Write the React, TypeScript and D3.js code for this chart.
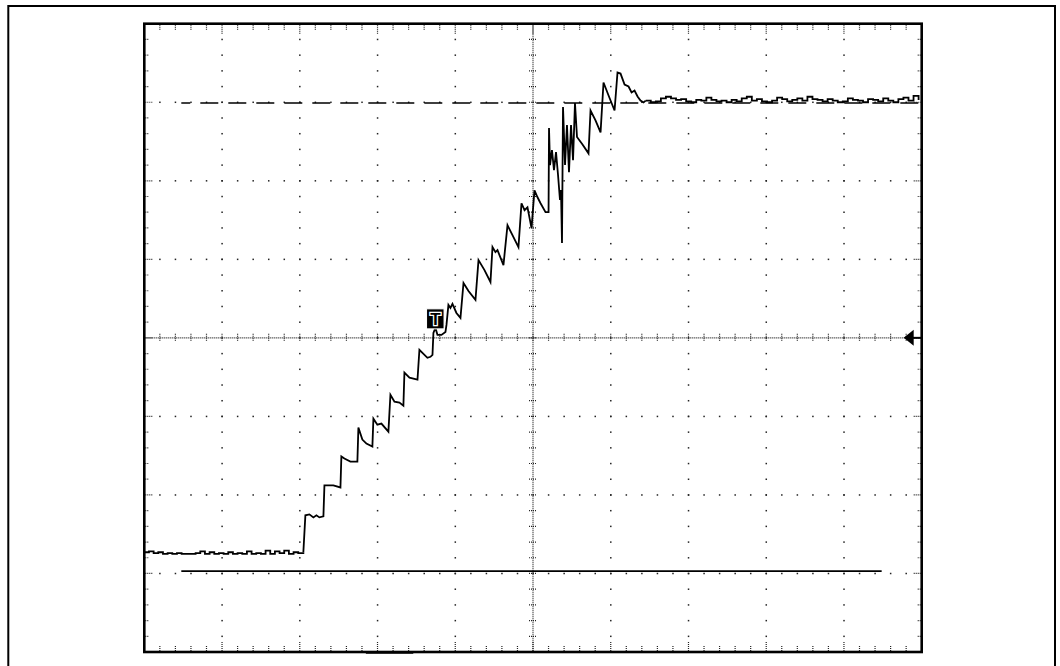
import React from "react";
import * as d3 from "d3";

// Oscilloscope screen: 10 x 8 divisions, 5 minor ticks per division
const X_DIVS = 10;
const Y_DIVS = 8;
const MINOR = 5;

// Captured trace, in divisions [time, level]
const baselineTrace: [number, number][] = [
  [0.0, -2.73], [0.06, -2.72], [0.12, -2.74], [0.18, -2.73], [0.24, -2.75], [0.3, -2.74],
  [0.36, -2.75], [0.42, -2.74], [0.48, -2.75], [0.54, -2.75], [0.6, -2.75], [0.66, -2.74],
  [0.72, -2.72], [0.78, -2.75], [0.84, -2.73], [0.9, -2.75], [0.96, -2.74], [1.02, -2.75],
  [1.08, -2.73], [1.14, -2.75], [1.2, -2.74], [1.26, -2.75], [1.32, -2.72], [1.38, -2.75],
  [1.44, -2.74], [1.5, -2.75], [1.56, -2.71], [1.62, -2.75], [1.68, -2.72], [1.74, -2.74],
  [1.8, -2.71], [1.86, -2.75], [1.92, -2.73], [1.98, -2.74], [2.046, -2.73],
];

const rampTrace: [number, number][] = [
  [2.046, -2.73],
  [2.072, -2.26], [2.124, -2.248], [2.175, -2.286], [2.214, -2.26], [2.252, -2.286], [2.304, -2.273],
  [2.317, -1.879], [2.432, -1.879], [2.523, -1.905],
  [2.535, -1.511], [2.574, -1.537], [2.651, -1.575], [2.741, -1.575],
  [2.754, -1.143], [2.805, -1.295], [2.857, -1.346], [2.934, -1.384],
  [2.947, -1.029], [2.998, -1.105], [3.05, -1.092], [3.14, -1.194],
  [3.166, -0.724], [3.218, -0.813], [3.282, -0.825], [3.333, -0.863],
  [3.346, -0.444], [3.411, -0.508], [3.514, -0.533],
  [3.539, -0.152], [3.565, -0.178], [3.642, -0.254], [3.681, -0.241], [3.707, -0.216],
  [3.719, 0.063], [3.745, 0.127], [3.771, 0.038], [3.822, 0.038], [3.874, 0.076], [3.887, 0.165],
  [3.912, 0.419], [3.938, 0.381], [3.964, 0.432], [4.015, 0.317], [4.067, 0.254],
  [4.106, 0.698], [4.17, 0.597], [4.26, 0.483],
  [4.299, 0.99], [4.376, 0.863], [4.453, 0.711],
  [4.479, 1.156], [4.517, 1.092], [4.543, 1.117], [4.62, 0.927],
  [4.672, 1.435], [4.736, 1.308], [4.813, 1.156],
  [4.852, 1.714], [4.891, 1.625], [4.929, 1.663], [4.981, 1.397],
  [5.019, 1.879], [5.058, 1.79], [5.097, 1.714], [5.161, 1.6], [5.2, 1.6],
];

const ringingTrace: [number, number][] = [
  [5.206, 2.672], [5.219, 2.2], [5.244, 2.391], [5.27, 2.136], [5.296, 2.366], [5.322, 2.073],
  [5.347, 1.755], [5.36, 1.882], [5.373, 1.208], [5.386, 2.94], [5.412, 2.2], [5.437, 2.71],
  [5.463, 2.11], [5.489, 2.71], [5.515, 2.263], [5.54, 2.99], [5.566, 2.557],
  [5.637, 2.463], [5.714, 2.349], [5.74, 2.895], [5.804, 2.768], [5.869, 2.616],
  [5.907, 3.251], [5.972, 3.086], [6.049, 2.895], [6.087, 3.378], [6.126, 3.365], [6.178, 3.225],
  [6.229, 3.2], [6.268, 3.124], [6.306, 3.149], [6.345, 3.073], [6.383, 3.022], [6.422, 2.997],
  [6.45, 3.02],
];

const settledStart = 6.45;
const settledStep = 0.065;
const settledValues: number[] = [
  3.02, 3.0, 3.01, 3.05, 3.07, 3.05, 3.03, 3.04, 3.01, 3.0, 3.03, 3.02, 3.06, 3.03, 3.01,
  3.02, 3.0, 3.03, 3.01, 3.05, 3.07, 3.02, 3.04, 3.01, 3.0, 3.02, 3.06, 3.04, 3.01, 3.03,
  3.05, 3.02, 3.07, 3.04, 3.03, 3.01, 3.04, 3.02, 3.0, 3.01, 3.05, 3.03, 3.02, 3.0, 3.04,
  3.03, 3.01, 3.05, 3.02, 3.0, 3.04, 3.06, 3.02, 3.08, 3.03,
];

// Cursors (divisions)
const cursorHigh = { level: 2.99, from: 0.476, to: 10 };
const cursorLow = { level: -2.97, from: 0.476, to: 9.485 };
const triggerTime = 3.74;
const triggerLevel = 0;
const bottomMarker = { from: 2.85, to: 3.46 };

export default function App() {
  const W = 1060;
  const H = 666;
  const x = d3.scaleLinear().domain([0, X_DIVS]).range([144.3, 921.7]);
  const y = d3.scaleLinear().domain([-Y_DIVS / 2, Y_DIVS / 2]).range([652, 23.7]);
  const x0 = x(0), x1 = x(X_DIVS), y0 = y(Y_DIVS / 2), y1 = y(-Y_DIVS / 2);
  const cx = x(X_DIVS / 2), cy = y(0);

  const settledTrace: [number, number][] = settledValues.map((v, i) => [settledStart + i * settledStep, v]);
  const line = d3.line<[number, number]>().x((d) => x(d[0])).y((d) => y(d[1]));
  const stepLine = d3.line<[number, number]>().x((d) => x(d[0])).y((d) => y(d[1])).curve(d3.curveStepAfter);

  const xMinor = d3.range(1, X_DIVS * MINOR).map((k) => k / MINOR);
  const yMinor = d3.range(1, Y_DIVS * MINOR).map((k) => -Y_DIVS / 2 + k / MINOR);
  const xMajor = d3.range(1, X_DIVS).filter((i) => i !== X_DIVS / 2);
  const yMajor = d3.range(1, Y_DIVS).map((j) => -Y_DIVS / 2 + j).filter((v) => v !== 0);

  const dots: React.ReactNode[] = [];
  xMajor.forEach((i) =>
    yMinor.forEach((v, k) =>
      dots.push(<rect key={`vd${i}-${k}`} x={x(i) - 0.7} y={y(v) - 0.7} width={1.5} height={1.5} fill="#222" />)
    )
  );
  yMajor.forEach((j) =>
    xMinor.forEach((t, k) =>
      dots.push(<rect key={`hd${j}-${k}`} x={x(t) - 0.7} y={y(j) - 0.7} width={1.5} height={1.5} fill="#222" />)
    )
  );

  const dotStyle = { stroke: "#222", strokeWidth: 1.2, strokeDasharray: "1 1" };
  const ticks: React.ReactNode[] = [];
  xMinor.forEach((t, k) => {
    const major = Math.abs(t - Math.round(t)) < 1e-6;
    const len = major ? 11 : 6;
    ticks.push(<line key={`tt${k}`} x1={x(t)} x2={x(t)} y1={y0 + 1} y2={y0 + len} {...dotStyle} />);
    ticks.push(<line key={`tb${k}`} x1={x(t)} x2={x(t)} y1={y1 - 1} y2={y1 - len} {...dotStyle} />);
    ticks.push(<line key={`tc${k}`} x1={x(t)} x2={x(t)} y1={cy - 4} y2={cy + 4} {...dotStyle} />);
  });
  yMinor.forEach((v, k) => {
    const major = Math.abs(v - Math.round(v)) < 1e-6;
    const len = major ? 8 : 5;
    ticks.push(<line key={`tl${k}`} x1={x0 + 1} x2={x0 + len} y1={y(v)} y2={y(v)} {...dotStyle} />);
    ticks.push(<line key={`tr${k}`} x1={x1 - 1} x2={x1 - len} y1={y(v)} y2={y(v)} {...dotStyle} />);
    ticks.push(<line key={`tm${k}`} x1={cx - 4} x2={cx + 4} y1={y(v)} y2={y(v)} {...dotStyle} />);
  });

  const tx = x(triggerTime);
  const ty = y(triggerLevel);
  const ay = y(triggerLevel);
  const traceStyle = { fill: "none", stroke: "#000", strokeWidth: 1.8 };

  return (
    <svg width={W} height={H} style={{ position: "absolute", left: 0, top: 0, background: "#fff" }}>
      <rect x={0} y={0} width={W} height={H} fill="#fff" />
      <rect x={8.3} y={6} width={1046.7} height={700} fill="none" stroke="#000" strokeWidth={2} />
      {dots}
      <line x1={x0} x2={x1} y1={cy} y2={cy} {...dotStyle} />
      <line x1={cx} x2={cx} y1={y0} y2={y1} {...dotStyle} />
      {ticks}
      <line
        x1={x(cursorHigh.from)} x2={x(cursorHigh.to)}
        y1={y(cursorHigh.level)} y2={y(cursorHigh.level)}
        stroke="#000" strokeWidth={1.7} strokeDasharray="18 10" strokeDashoffset={9}
      />
      <line
        x1={x(cursorLow.from)} x2={x(cursorLow.to)}
        y1={y(cursorLow.level)} y2={y(cursorLow.level)}
        stroke="#000" strokeWidth={1.7}
      />
      <path d={stepLine(baselineTrace) || ""} {...traceStyle} />
      <path d={line([...rampTrace, ...ringingTrace]) || ""} {...traceStyle} strokeLinejoin="miter" />
      <path d={stepLine(settledTrace) || ""} {...traceStyle} />
      <rect x={x0} y={y0} width={x1 - x0} height={y1 - y0} fill="none" stroke="#000" strokeWidth={2.6} />
      <line x1={x(bottomMarker.from)} x2={x(bottomMarker.to)} y1={y1 + 0.5} y2={y1 + 0.5} stroke="#000" strokeWidth={2.5} />
      <g>
        <rect x={tx - 8.5} y={ty - 29} width={17.5} height={20} fill="#000" stroke="#fff" strokeWidth={1} />
        <text
          x={tx + 0.3} y={ty - 12.5} textAnchor="middle"
          fontFamily="Liberation Sans, Arial, sans-serif" fontWeight="bold" fontSize={17}
          fill="#000" stroke="#fff" strokeWidth={2.5} style={{ paintOrder: "stroke" }}
        >T</text>
      </g>
      <path d={`M${x1 - 18},${ay} L${x1 - 8},${ay - 8} L${x1 - 8},${ay + 8} Z`} fill="#000" />
      <line x1={x1 - 9} x2={x1} y1={ay} y2={ay} stroke="#000" strokeWidth={2} />
    </svg>
  );
}
